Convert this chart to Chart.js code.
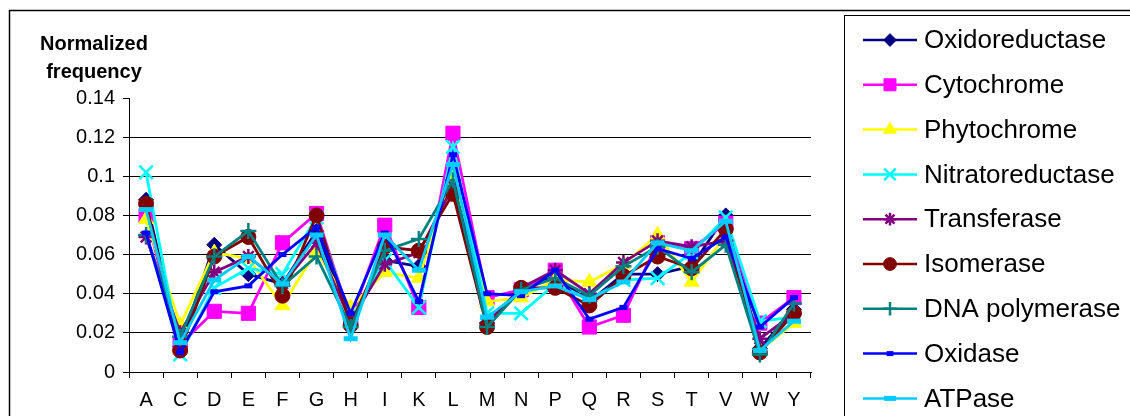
<!DOCTYPE html>
<html>
<head>
<meta charset="utf-8">
<script src="https://cdn.jsdelivr.net/npm/chart.js@4.4.1/dist/chart.umd.min.js"></script>
<style>
html,body{margin:0;padding:0;background:#fff;}
canvas{display:block;}
</style>
</head>
<body>
<canvas id="c" width="1130" height="416"></canvas>
<script>
const categories = ['A','C','D','E','F','G','H','I','K','L','M','N','P','Q','R','S','T','V','W','Y'];
const yTicks = [0, 0.02, 0.04, 0.06, 0.08, 0.1, 0.12, 0.14];
const seriesNames = ['Oxidoreductase','Cytochrome','Phytochrome','Nitratoreductase','Transferase','Isomerase','DNA polymerase','Oxidase','ATPase'];

const oxidoreductase = [0.088,0.013,0.065,0.050,0.045,0.072,0.027,0.057,0.054,0.100,0.025,0.042,0.049,0.036,0.050,0.050,0.054,0.080,0.012,0.032];
const cytochrome     = [0.080,0.014,0.031,0.030,0.066,0.081,0.027,0.075,0.033,0.122,0.038,0.042,0.052,0.023,0.029,0.066,0.063,0.076,0.025,0.038];
const phytochrome    = [0.078,0.024,0.061,0.058,0.034,0.062,0.033,0.051,0.048,0.102,0.036,0.038,0.047,0.046,0.055,0.070,0.046,0.070,0.011,0.025];
const nitratoreductase=[0.102,0.009,0.043,0.053,0.050,0.079,0.027,0.057,0.033,0.115,0.030,0.030,0.045,0.037,0.047,0.048,0.061,0.079,0.026,0.028];
const transferase    = [0.069,0.020,0.051,0.059,0.045,0.066,0.026,0.055,0.061,0.095,0.025,0.043,0.052,0.040,0.056,0.067,0.064,0.067,0.017,0.030];
const isomerase      = [0.086,0.011,0.059,0.069,0.039,0.080,0.024,0.064,0.062,0.091,0.023,0.043,0.043,0.034,0.049,0.059,0.053,0.073,0.010,0.030];
const dnaPolymerase  = [0.070,0.018,0.059,0.072,0.044,0.059,0.023,0.062,0.068,0.098,0.023,0.042,0.048,0.039,0.054,0.064,0.051,0.065,0.009,0.035];
const oxidase        = [0.071,0.010,0.041,0.044,0.060,0.074,0.030,0.071,0.036,0.111,0.040,0.039,0.052,0.027,0.033,0.063,0.058,0.069,0.023,0.038];
const atpase         = [0.083,0.015,0.047,0.059,0.045,0.070,0.017,0.070,0.052,0.106,0.028,0.041,0.044,0.037,0.046,0.066,0.062,0.077,0.011,0.026];

const seriesValues = [oxidoreductase,cytochrome,phytochrome,nitratoreductase,transferase,isomerase,dnaPolymerase,oxidase,atpase];
const colors = ['#000080','#FF00FF','#FFFF00','#00FFFF','#800080','#800000','#008080','#0000FF','#00CCFF'];
const styles = [
  {ps:'rectRot', r:7.5, bw:1},
  {ps:'rect', r:10, bw:1},
  {ps:'triangle', r:8.5, bw:1},
  {ps:'crossRot', r:9.5, bw:2.5},
  {ps:'star', r:7.5, bw:2.5},
  {ps:'circle', r:7.5, bw:1},
  {ps:'cross', r:8, bw:2.5},
  {ps:'line', r:4, bw:5},
  {ps:'line', r:7, bw:5}
];

const FONT = 'Arial, "Liberation Sans", sans-serif';
Chart.defaults.font.family = FONT;
Chart.defaults.color = '#000';

const datasets = seriesNames.map((name, i) => ({
  label: name,
  data: seriesValues[i],
  borderColor: colors[i],
  backgroundColor: colors[i],
  borderWidth: 2.8,
  pointStyle: styles[i].ps,
  pointRadius: styles[i].r,
  pointHoverRadius: styles[i].r,
  pointBorderWidth: styles[i].bw,
  pointBackgroundColor: colors[i],
  pointBorderColor: colors[i],
  tension: 0,
  order: seriesNames.length - i
}));

const decor = {
  id: 'decor',
  beforeDraw(chart) {
    const ctx = chart.ctx;
    ctx.save();
    ctx.fillStyle = '#fff';
    ctx.fillRect(0, 0, chart.width, chart.height);
    ctx.strokeStyle = '#000';
    ctx.lineWidth = 1.5;
    ctx.strokeRect(9.5, 10.5, 1300, 600);
    ctx.restore();
  },
  afterDraw(chart) {
    const ctx = chart.ctx;
    ctx.save();
    ctx.fillStyle = '#000';
    ctx.font = 'bold 20px ' + FONT;
    ctx.textAlign = 'center';
    ctx.textBaseline = 'middle';
    ctx.fillText('Normalized', 94, 44);
    ctx.fillText('frequency', 94, 72);
    ctx.fillStyle = '#fff';
    ctx.fillRect(844, 15, 400, 500);
    ctx.strokeStyle = '#000';
    ctx.lineWidth = 1;
    ctx.strokeRect(844.5, 15.5, 400, 500);
    ctx.font = '26px ' + FONT;
    ctx.textAlign = 'left';
    chart.data.datasets.forEach((ds, i) => {
      const y = 40 + i * 44.8;
      ctx.strokeStyle = ds.borderColor;
      ctx.lineWidth = 2.5;
      ctx.beginPath();
      ctx.moveTo(863, y);
      ctx.lineTo(917, y);
      ctx.stroke();
      ctx.fillStyle = ds.borderColor;
      ctx.strokeStyle = ds.borderColor;
      ctx.lineWidth = ds.pointBorderWidth;
      Chart.helpers.drawPoint(ctx, {
        pointStyle: ds.pointStyle,
        rotation: 0,
        radius: ds.pointRadius * 0.85,
        borderWidth: ds.pointBorderWidth
      }, 890, y);
      ctx.fillStyle = '#000';
      ctx.fillText(ds.label, 924, y + 1);
    });
    ctx.restore();
  }
};

new Chart(document.getElementById('c'), {
  type: 'line',
  data: { labels: categories, datasets: datasets },
  options: {
    responsive: false,
    animation: false,
    devicePixelRatio: 1,
    layout: { padding: { left: 0, right: 319, top: 98, bottom: 0 } },
    plugins: { legend: { display: false }, tooltip: { enabled: false } },
    scales: {
      x: {
        type: 'category',
        offset: true,
        afterFit(scale) { scale.height = 44; },
        grid: { offset: true, drawOnChartArea: false, drawTicks: true, tickLength: 6, color: '#000', tickColor: '#000' },
        border: { display: true, color: '#000', width: 1 },
        ticks: { font: { size: 20 }, color: '#000', padding: 10, maxRotation: 0, autoSkip: false }
      },
      y: {
        min: 0,
        max: 0.14,
        afterFit(scale) { scale.width = 129; },
        afterBuildTicks(scale) { scale.ticks = yTicks.map(v => ({ value: v })); },
        grid: {
          color: c => (c.tick && c.tick.value >= 0.139) ? 'rgba(0,0,0,0)' : '#000',
          tickColor: '#000',
          tickLength: 6,
          lineWidth: 1
        },
        border: { display: true, color: '#000', width: 1 },
        ticks: {
          font: { size: 20 },
          color: '#000',
          padding: 8,
          callback: v => String(+Number(v).toFixed(2))
        }
      }
    }
  },
  plugins: [decor]
});
</script>
</body>
</html>
